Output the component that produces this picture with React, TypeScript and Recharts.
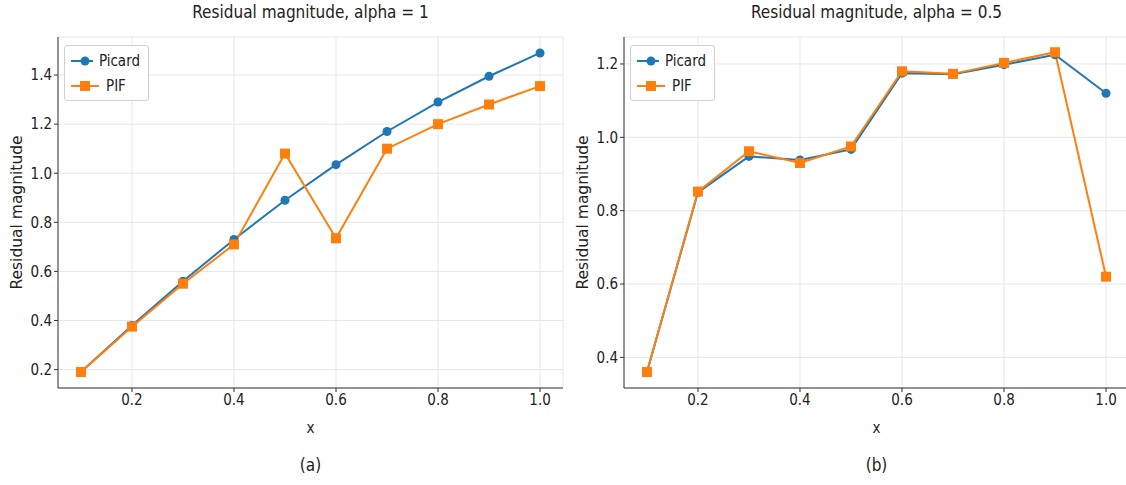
import { LineChart, Line, XAxis, YAxis, CartesianGrid, ReferenceArea, Label } from 'recharts'

// x positions shared by both panels
const xs = [0.1, 0.2, 0.3, 0.4, 0.5, 0.6, 0.7, 0.8, 0.9, 1.0]

// alpha = 1
const picardA = [0.19, 0.38, 0.56, 0.73, 0.89, 1.035, 1.17, 1.29, 1.395, 1.49]
const pifA = [0.19, 0.375, 0.55, 0.71, 1.08, 0.735, 1.1, 1.2, 1.28, 1.355]

// alpha = 0.5
const picardB = [0.36, 0.85, 0.948, 0.938, 0.967, 1.175, 1.172, 1.198, 1.225, 1.12]
const pifB = [0.36, 0.852, 0.962, 0.93, 0.975, 1.18, 1.173, 1.203, 1.232, 0.62]

const xTicks = [0.2, 0.4, 0.6, 0.8, 1.0]
const yTicksA = [0.2, 0.4, 0.6, 0.8, 1.0, 1.2, 1.4]
const yTicksB = [0.4, 0.6, 0.8, 1.0, 1.2]

const BLUE = '#1f77b4'
const ORANGE = '#ff7f0e'
const COND = '"DejaVu Sans Condensed", "DejaVu Sans", sans-serif'
const DEJAVU = '"DejaVu Sans", sans-serif'

function CircleDot({ cx, cy }: any) {
  if (cx == null || cy == null) return null
  return <circle cx={cx} cy={cy} r={4.5} fill={BLUE} />
}

function SquareDot({ cx, cy }: any) {
  if (cx == null || cy == null) return null
  return <rect x={cx - 5} y={cy - 5} width={10} height={10} fill={ORANGE} />
}

function LegendBox() {
  const row = (color: string, label: string, square: boolean) => (
    <div style={{ display: 'flex', alignItems: 'center', height: 25 }}>
      <svg width={30} height={14} style={{ marginRight: 6 }}>
        <line x1={1} y1={7} x2={29} y2={7} stroke={color} strokeWidth={2} />
        {square
          ? <rect x={10} y={2} width={10} height={10} fill={color} />
          : <circle cx={15} cy={7} r={4.5} fill={color} />}
      </svg>
      <span style={{ fontFamily: COND, fontSize: 15, color: '#222' }}>{label}</span>
    </div>
  )
  return (
    <div style={{
      position: 'absolute', left: 64, top: 45, width: 70,
      border: '1px solid #d0d0d0', borderRadius: 3, background: 'rgba(255,255,255,0.85)',
      padding: '2px 8px 2px 5px',
    }}>
      {row(BLUE, 'Picard', false)}
      {row(ORANGE, 'PIF', true)}
    </div>
  )
}

interface PanelProps {
  left: number
  title: string
  caption: string
  picard: number[]
  pif: number[]
  yTicks: number[]
  yDomain: [number, number]
}

function Panel({ left, title, caption, picard, pif, yTicks, yDomain }: PanelProps) {
  const data = xs.map((x, i) => ({ x, picard: picard[i], pif: pif[i] }))
  const width = 570
  return (
    <div style={{ position: 'absolute', left, top: 0, width, height: 485 }}>
      <div style={{
        position: 'absolute', left: 58, width: 505, top: 2, textAlign: 'center',
        fontFamily: COND, fontSize: 17, color: '#222',
      }}>{title}</div>
      <LineChart width={width} height={450} data={data}
        margin={{ top: 37, right: 7, bottom: 0, left: 0 }}>
        <CartesianGrid stroke="#e6e6e6" strokeWidth={1} />
        <XAxis dataKey="x" type="number" domain={[0.055, 1.045]} ticks={xTicks}
          allowDataOverflow height={62}
          tick={{ fontFamily: COND, fontSize: 15, fill: '#222' }}
          tickFormatter={(v: number) => v.toFixed(1)}
          tickLine={{ stroke: '#333' }} tickSize={4}
          axisLine={{ stroke: '#333' }}>
          <Label value="x" position="insideBottom" offset={17}
            style={{ fontFamily: COND, fontSize: 15, fill: '#222' }} />
        </XAxis>
        <YAxis type="number" domain={yDomain} ticks={yTicks} allowDataOverflow width={58}
          tick={{ fontFamily: COND, fontSize: 15, fill: '#222' }}
          tickFormatter={(v: number) => v.toFixed(1)}
          tickLine={{ stroke: '#333' }} tickSize={4}
          axisLine={{ stroke: '#333' }}>
          <Label value="Residual magnitude" angle={-90} position="insideLeft" offset={16}
            style={{ fontFamily: DEJAVU, fontSize: 15.5, fill: '#222', textAnchor: 'middle' }} />
        </YAxis>
        <ReferenceArea fill="none" stroke="#333" strokeWidth={1} />
        <Line dataKey="picard" stroke={BLUE} strokeWidth={2} dot={<CircleDot />}
          activeDot={false} isAnimationActive={false} />
        <Line dataKey="pif" stroke={ORANGE} strokeWidth={2} dot={<SquareDot />}
          activeDot={false} isAnimationActive={false} />
      </LineChart>
      <LegendBox />
      <div style={{
        position: 'absolute', left: 58, width: 505, top: 455, textAlign: 'center',
        fontFamily: COND, fontSize: 17, color: '#222',
      }}>{caption}</div>
    </div>
  )
}

export default function App() {
  return (
    <div style={{
      position: 'absolute', left: 0, top: 0, width: 1126, height: 485,
      overflow: 'hidden', background: '#fff',
    }}>
      <Panel left={0} title="Residual magnitude, alpha = 1" caption="(a)"
        picard={picardA} pif={pifA} yTicks={yTicksA} yDomain={[0.125, 1.555]} />
      <Panel left={566} title="Residual magnitude, alpha = 0.5" caption="(b)"
        picard={picardB} pif={pifB} yTicks={yTicksB} yDomain={[0.3165, 1.2735]} />
    </div>
  )
}
